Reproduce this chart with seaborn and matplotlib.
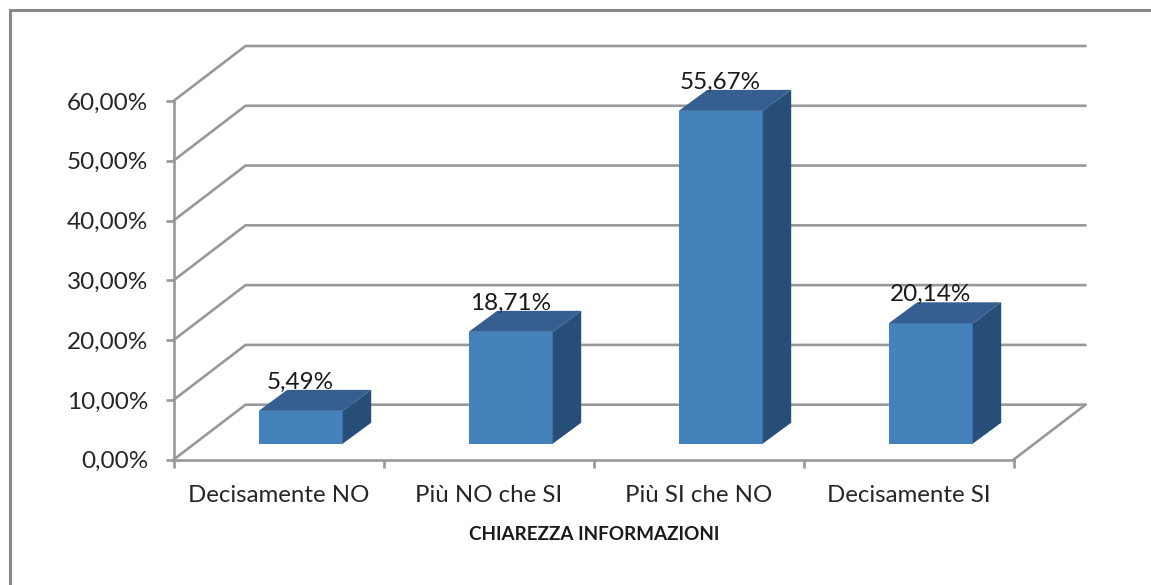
import matplotlib
matplotlib.use("Agg")
import matplotlib.pyplot as plt
from matplotlib.lines import Line2D
from matplotlib.patches import Polygon
import pandas as pd
import seaborn as sns

categories = ["Decisamente NO", "Più NO che SI", "Più SI che NO", "Decisamente SI"]
values = [5.49, 18.71, 55.67, 20.14]
y_ticks = [0, 10, 20, 30, 40, 50, 60]
x_title = "CHIAREZZA INFORMAZIONI"

FW, FH = 1151, 585
sns.set_theme(style="white")
plt.rcParams["font.family"] = ["Lato", "DejaVu Sans"]

# geometry of the axes box in pixels
L, R, T, B = 173.5, 1013.5, 101.0, 459.7
GREY = "#989898"
LW = 1.9
FRONT, TOP, SIDE = "#4581BB", "#355F91", "#274E79"

fig = plt.figure(figsize=(FW / 100, FH / 100), dpi=100, facecolor="white")
ax = fig.add_axes([L / FW, 1 - B / FH, (R - L) / FW, (B - T) / FH])
ax.set_facecolor("none")

df = pd.DataFrame({"categoria": categories, "valore": values})
sns.barplot(data=df, x="categoria", y="valore", color=FRONT, saturation=1,
            width=0.4, ax=ax, zorder=3)
ax.set_xlim(-0.5, 3.5)
ax.set_ylim(0, 60)

px_x = (R - L) / 4            # pixels per category
px_y = (B - T) / 60           # pixels per percent
wall_dx, wall_dy = 72 / px_x, 55 / px_y     # depth of the chart box
bar_dx, bar_dy = 28.5 / px_x, 21 / px_y     # depth of a bar
shift_x, shift_y = 22.2 / px_x, 16 / px_y   # bar position inside the box

# back wall grid: a slanted part on the side wall, then the horizontal line
for v in y_ticks:
    ax.plot([-0.5, -0.5 + wall_dx, 3.5 + wall_dx],
            [v, v + wall_dy, v + wall_dy],
            color=GREY, lw=LW, clip_on=False, zorder=1, solid_joinstyle="miter")
ax.plot([3.5, 3.5 + wall_dx], [0, wall_dy], color=GREY, lw=LW, clip_on=False, zorder=1)

# extrude each seaborn bar
for p, val in zip(ax.patches, values):
    p.set_x(p.get_x() + shift_x)
    p.set_y(shift_y)
    p.set_clip_on(False)
    p.set_linewidth(0)
    x0, x1 = p.get_x(), p.get_x() + p.get_width()
    y0, y1 = p.get_y(), p.get_y() + p.get_height()
    ax.add_patch(Polygon([(x0, y1), (x1, y1), (x1 + bar_dx, y1 + bar_dy), (x0 + bar_dx, y1 + bar_dy)],
                         closed=True, fc=TOP, ec="none", clip_on=False, zorder=3))
    ax.add_patch(Polygon([(x1, y0), (x1 + bar_dx, y0 + bar_dy), (x1 + bar_dx, y1 + bar_dy), (x1, y1)],
                         closed=True, fc=SIDE, ec="none", clip_on=False, zorder=3))
    ax.annotate(f"{val:.2f}%".replace(".", ","), xy=((x0 + x1) / 2, y1), xytext=(0, 20.5),
                textcoords="offset points", ha="center", va="center",
                fontsize=17.5, color="#1A1A1A", zorder=5, annotation_clip=False)

for s in ("top", "right"):
    ax.spines[s].set_visible(False)
for s in ("left", "bottom"):
    ax.spines[s].set_color(GREY)
    ax.spines[s].set_linewidth(LW)

ax.set_yticks(y_ticks)
ax.set_yticklabels([f"{v:.2f}%".replace(".", ",") for v in y_ticks])
ax.set_xticks([0, 1, 2, 3])
ax.set_xticklabels(categories)
ax.tick_params(axis="x", which="major", length=0, pad=18.5, labelsize=17.3, labelcolor="#262626")
ax.tick_params(axis="y", which="major", length=6, width=LW, color=GREY, left=True,
               pad=12, labelsize=17.5, labelcolor="#262626")
# category-boundary ticks on the x axis
ax.set_xticks([-0.5, 0.5, 1.5, 2.5, 3.5], minor=True)
ax.tick_params(axis="x", which="minor", bottom=True, length=6, width=LW, color=GREY)

ax.set_ylabel("")
ax.set_xlabel(x_title, fontsize=13.6, fontweight="bold", color="#1A1A1A")
ax.xaxis.set_label_coords((594 - L) / (R - L), -(535 - B) / (B - T), transform=ax.transAxes)
ax.xaxis.label.set_va("center")

# outer frame: only top and left edges are visible in the crop
fig.add_artist(Line2D([10 / FW, 10 / FW, 1], [0, 1 - 9.5 / FH, 1 - 9.5 / FH],
                      color="#8A8A8A", lw=2.2, solid_joinstyle="miter"))

fig.savefig("out.png", dpi=100, facecolor="white")
